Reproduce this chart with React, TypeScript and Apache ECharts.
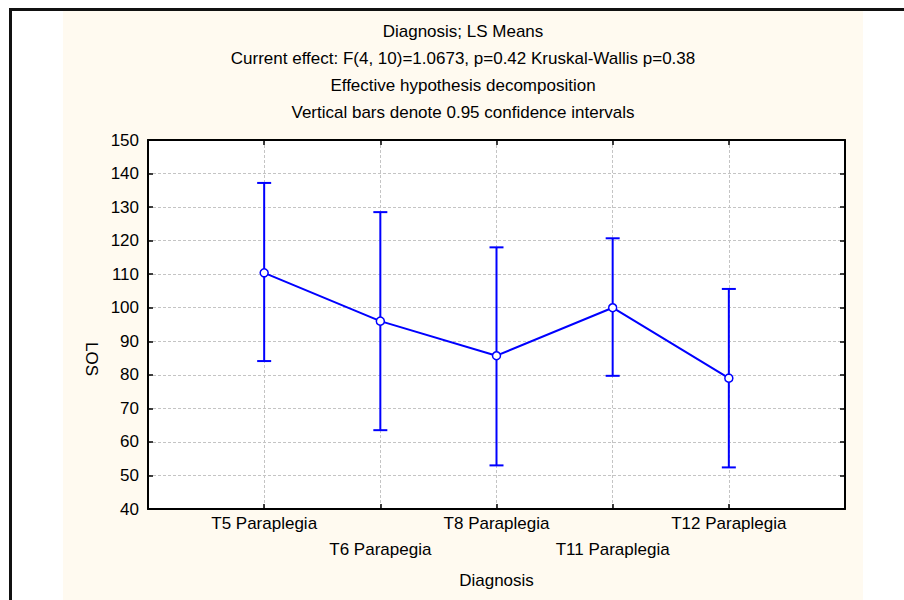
import React, { useEffect, useRef } from "react";
import * as echarts from "echarts";

const categories = ["T5 Paraplegia", "T6 Parapegia", "T8 Paraplegia", "T11 Paraplegia", "T12 Paraplegia"];
const means = [110.4, 96.0, 85.7, 100.0, 79.0];
const lower = [84.1, 63.5, 53.0, 79.7, 52.4];
const upper = [137.2, 128.5, 118.0, 120.7, 105.6];
const yMin = 40;
const yMax = 150;
const yStep = 10;
const titleLines = [
  "Diagnosis; LS Means",
  "Current effect: F(4, 10)=1.0673, p=0.42 Kruskal-Wallis p=0.38",
  "Effective hypothesis decomposition",
  "Vertical bars denote 0.95 confidence intervals",
];
const xName = "Diagnosis";
const yName = "LOS";

const FONT = "'Liberation Sans', Arial, Helvetica, sans-serif";
const BLUE = "#0000ff";

export default function App() {
  const ref = useRef<HTMLDivElement>(null);
  useEffect(() => {
    document.body.style.margin = "0";
    const chart = echarts.init(ref.current!, null, { renderer: "svg" });
    const titleGraphics = titleLines.map((t, i) => ({
      type: "text",
      x: 463,
      y: 31 + i * 27.3,
      style: {
        text: t,
        fill: "#000",
        font: `17px ${FONT}`,
        textAlign: "center",
        textVerticalAlign: "middle",
      },
    }));
    const option: any = {
      animation: false,
      backgroundColor: "#ffffff",
      graphic: [
        { type: "rect", shape: { x: 63, y: 11, width: 800, height: 589 }, style: { fill: "#fffaf0" }, z: -10 },
        { type: "rect", shape: { x: 9, y: 8, width: 895, height: 3 }, style: { fill: "#111" }, z: -5 },
        { type: "rect", shape: { x: 9, y: 8, width: 3, height: 592 }, style: { fill: "#111" }, z: -5 },
        ...titleGraphics,
      ],
      grid: {
        left: 148,
        top: 140,
        width: 697,
        height: 369,
        show: true,
        backgroundColor: "#ffffff",
        borderWidth: 0,
      },
      xAxis: [
        {
          type: "value",
          min: 0,
          max: categories.length + 1,
          interval: 1,
          position: "bottom",
          name: xName,
          nameLocation: "middle",
          nameGap: 63,
          nameTextStyle: { fontFamily: FONT, fontSize: 17, color: "#000" },
          axisLine: { show: true, onZero: false, lineStyle: { color: "#000", width: 2 } },
          axisTick: { show: true, inside: true, length: 5, lineStyle: { color: "#000", width: 1.5 } },
          axisLabel: {
            show: true,
            margin: 1,
            fontFamily: FONT,
            fontSize: 17,
            color: "#000",
            lineHeight: 26,
            showMinLabel: true,
            showMaxLabel: true,
            formatter: (v: number) => {
              const i = Math.round(v) - 1;
              if (i < 0 || i >= categories.length) return "";
              return i % 2 === 1 ? "\n" + categories[i] : categories[i];
            },
          },
          splitLine: { show: true, lineStyle: { color: "#c4c4c4", width: 1, type: [3, 2] } },
        },
        {
          type: "value",
          min: 0,
          max: categories.length + 1,
          interval: 1,
          position: "top",
          axisLine: { show: true, onZero: false, lineStyle: { color: "#000", width: 2 } },
          axisTick: { show: true, inside: true, length: 5, lineStyle: { color: "#000", width: 1.5 } },
          axisLabel: { show: false },
          splitLine: { show: false },
        },
      ],
      yAxis: [
        {
          type: "value",
          min: yMin,
          max: yMax,
          interval: yStep,
          position: "left",
          name: yName,
          nameLocation: "middle",
          nameRotate: -90,
          nameGap: 34,
          nameTextStyle: { fontFamily: FONT, fontSize: 17, color: "#000", padding: [0, 0, 0, 69] },
          axisLine: { show: true, onZero: false, lineStyle: { color: "#000", width: 2 } },
          axisTick: { show: true, inside: true, length: 5, lineStyle: { color: "#000", width: 1.5 } },
          axisLabel: { show: true, margin: 9, fontFamily: FONT, fontSize: 17, color: "#000" },
          splitLine: { show: true, lineStyle: { color: "#c4c4c4", width: 1, type: [3, 2] } },
        },
        {
          type: "value",
          min: yMin,
          max: yMax,
          interval: yStep,
          position: "right",
          axisLine: { show: true, onZero: false, lineStyle: { color: "#000", width: 2 } },
          axisTick: { show: true, inside: true, length: 5, lineStyle: { color: "#000", width: 1.5 } },
          axisLabel: { show: false },
          splitLine: { show: false },
        },
      ],
      series: [
        {
          type: "custom",
          xAxisIndex: 0,
          yAxisIndex: 0,
          z: 2,
          encode: { x: 0, y: [1, 2] },
          data: categories.map((_, i) => [i + 1, lower[i], upper[i]]),
          renderItem: (params: any, api: any) => {
            const x = api.value(0);
            const lo = api.coord([x, api.value(1)]);
            const hi = api.coord([x, api.value(2)]);
            const half = 7;
            const style = { stroke: BLUE, lineWidth: 2 };
            return {
              type: "group",
              children: [
                { type: "line", shape: { x1: lo[0], y1: lo[1], x2: hi[0], y2: hi[1] }, style },
                { type: "line", shape: { x1: hi[0] - half, y1: hi[1], x2: hi[0] + half, y2: hi[1] }, style },
                { type: "line", shape: { x1: lo[0] - half, y1: lo[1], x2: lo[0] + half, y2: lo[1] }, style },
              ],
            };
          },
        },
        {
          type: "line",
          xAxisIndex: 0,
          yAxisIndex: 0,
          z: 3,
          data: categories.map((_, i) => [i + 1, means[i]]),
          lineStyle: { color: BLUE, width: 2 },
          symbol: "circle",
          symbolSize: 8,
          itemStyle: { color: "#ffffff", borderColor: BLUE, borderWidth: 1.5 },
        },
      ],
    };
    chart.setOption(option);
    return () => chart.dispose();
  }, []);
  return <div ref={ref} style={{ width: 904, height: 600 }} />;
}
